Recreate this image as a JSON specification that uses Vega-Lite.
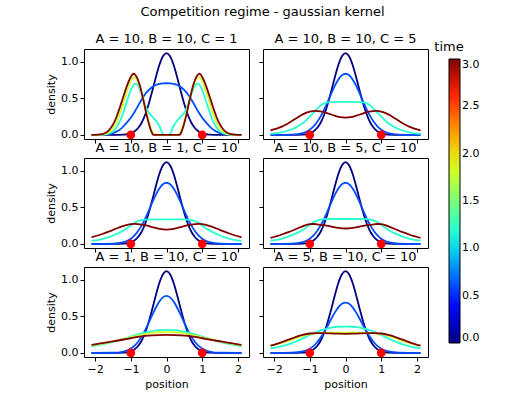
{
"$schema":"https://vega.github.io/schema/vega-lite/v6.json",
"padding":{"left":45,"top":5,"right":5,"bottom":5},
"title":{"text":"Competition regime - gaussian kernel","fontSize":13,"fontWeight":"normal","anchor":"middle","color":"black","offset":14},
"config":{
 "font":"DejaVu Sans",
 "view":{"stroke":"black","strokeWidth":1},
 "axis":{"grid":false,"domain":false,"tickColor":"black","labelColor":"black","titleColor":"black","labelFontSize":11,"titleFontSize":11,"titleFontWeight":"normal","tickSize":4,"labelPadding":2,"titlePadding":4},
 "title":{"fontSize":13,"fontWeight":"normal","offset":3,"color":"black"},
 "legend":{"orient":"none","legendX":350,"legendY":-8,"direction":"vertical","gradientLength":284,"gradientThickness":11,"gradientStrokeColor":"black","gradientStrokeWidth":1,"titleFontSize":13,"titleFontWeight":"normal","titleColor":"black","titleAlign":"center","titleAnchor":"start","labelFontSize":11,"labelColor":"black","labelOverlap":false}
},
"datasets":{
 "d":[{"x":-1,"y":0},{"x":1,"y":0}],
 "n":[{"time":0,"x":-2.1,"y":0},{"time":0,"x":-1.5,"y":0},{"time":0,"x":-1.2,"y":0.004},{"time":0,"x":-1,"y":0.022},{"time":0,"x":-0.9,"y":0.047},{"time":0,"x":-0.8,"y":0.091},{"time":0,"x":-0.7,"y":0.163},{"time":0,"x":-0.6,"y":0.272},{"time":0,"x":-0.5,"y":0.419},{"time":0,"x":-0.4,"y":0.597},{"time":0,"x":-0.3,"y":0.785},{"time":0,"x":-0.2,"y":0.955},{"time":0,"x":-0.1,"y":1.074},{"time":0,"x":0,"y":1.117},{"time":0,"x":0.1,"y":1.074},{"time":0,"x":0.2,"y":0.955},{"time":0,"x":0.3,"y":0.785},{"time":0,"x":0.4,"y":0.597},{"time":0,"x":0.5,"y":0.419},{"time":0,"x":0.6,"y":0.272},{"time":0,"x":0.7,"y":0.163},{"time":0,"x":0.8,"y":0.091},{"time":0,"x":0.9,"y":0.047},{"time":0,"x":1,"y":0.022},{"time":0,"x":1.2,"y":0.004},{"time":0,"x":1.5,"y":0},{"time":0,"x":2.1,"y":0}],
 "c":[
 {"p":1,"time":0.6,"x":-2.1,"y":0},{"p":1,"time":0.6,"x":-1.7,"y":0.006},{"p":1,"time":0.6,"x":-1.5,"y":0.025},{"p":1,"time":0.6,"x":-1.4,"y":0.045},{"p":1,"time":0.6,"x":-1.3,"y":0.075},{"p":1,"time":0.6,"x":-1.2,"y":0.12},{"p":1,"time":0.6,"x":-1.1,"y":0.175},{"p":1,"time":0.6,"x":-1,"y":0.235},{"p":1,"time":0.6,"x":-0.9,"y":0.31},{"p":1,"time":0.6,"x":-0.8,"y":0.395},{"p":1,"time":0.6,"x":-0.7,"y":0.48},{"p":1,"time":0.6,"x":-0.6,"y":0.555},{"p":1,"time":0.6,"x":-0.5,"y":0.61},{"p":1,"time":0.6,"x":-0.4,"y":0.655},{"p":1,"time":0.6,"x":-0.3,"y":0.682},{"p":1,"time":0.6,"x":-0.2,"y":0.698},{"p":1,"time":0.6,"x":-0.1,"y":0.704},{"p":1,"time":0.6,"x":0,"y":0.705},{"p":1,"time":0.6,"x":0.1,"y":0.704},{"p":1,"time":0.6,"x":0.2,"y":0.698},{"p":1,"time":0.6,"x":0.3,"y":0.682},{"p":1,"time":0.6,"x":0.4,"y":0.655},{"p":1,"time":0.6,"x":0.5,"y":0.61},{"p":1,"time":0.6,"x":0.6,"y":0.555},{"p":1,"time":0.6,"x":0.7,"y":0.48},{"p":1,"time":0.6,"x":0.8,"y":0.395},{"p":1,"time":0.6,"x":0.9,"y":0.31},{"p":1,"time":0.6,"x":1,"y":0.235},{"p":1,"time":0.6,"x":1.1,"y":0.175},{"p":1,"time":0.6,"x":1.2,"y":0.12},{"p":1,"time":0.6,"x":1.3,"y":0.075},{"p":1,"time":0.6,"x":1.4,"y":0.045},{"p":1,"time":0.6,"x":1.5,"y":0.025},{"p":1,"time":0.6,"x":1.7,"y":0.006},{"p":1,"time":0.6,"x":2.1,"y":0},
 {"p":1,"time":1.2,"x":-2.1,"y":0},{"p":1,"time":1.2,"x":-1.8,"y":0.003},{"p":1,"time":1.2,"x":-1.6,"y":0.02},{"p":1,"time":1.2,"x":-1.5,"y":0.045},{"p":1,"time":1.2,"x":-1.4,"y":0.1},{"p":1,"time":1.2,"x":-1.3,"y":0.19},{"p":1,"time":1.2,"x":-1.2,"y":0.32},{"p":1,"time":1.2,"x":-1.1,"y":0.47},{"p":1,"time":1.2,"x":-1,"y":0.61},{"p":1,"time":1.2,"x":-0.9,"y":0.695},{"p":1,"time":1.2,"x":-0.85,"y":0.7},{"p":1,"time":1.2,"x":-0.8,"y":0.675},{"p":1,"time":1.2,"x":-0.7,"y":0.56},{"p":1,"time":1.2,"x":-0.6,"y":0.41},{"p":1,"time":1.2,"x":-0.5,"y":0.305},{"p":1,"time":1.2,"x":-0.4,"y":0.25},{"p":1,"time":1.2,"x":-0.3,"y":0.195},{"p":1,"time":1.2,"x":-0.2,"y":0.125},{"p":1,"time":1.2,"x":-0.12,"y":0.03},{"p":1,"time":1.2,"x":-0.08,"y":0},{"p":1,"time":1.2,"x":0,"y":0},{"p":1,"time":1.2,"x":0.08,"y":0},{"p":1,"time":1.2,"x":0.12,"y":0.03},{"p":1,"time":1.2,"x":0.2,"y":0.125},{"p":1,"time":1.2,"x":0.3,"y":0.195},{"p":1,"time":1.2,"x":0.4,"y":0.25},{"p":1,"time":1.2,"x":0.5,"y":0.305},{"p":1,"time":1.2,"x":0.6,"y":0.41},{"p":1,"time":1.2,"x":0.7,"y":0.56},{"p":1,"time":1.2,"x":0.8,"y":0.675},{"p":1,"time":1.2,"x":0.85,"y":0.7},{"p":1,"time":1.2,"x":0.9,"y":0.695},{"p":1,"time":1.2,"x":1,"y":0.61},{"p":1,"time":1.2,"x":1.1,"y":0.47},{"p":1,"time":1.2,"x":1.2,"y":0.32},{"p":1,"time":1.2,"x":1.3,"y":0.19},{"p":1,"time":1.2,"x":1.4,"y":0.1},{"p":1,"time":1.2,"x":1.5,"y":0.045},{"p":1,"time":1.2,"x":1.6,"y":0.02},{"p":1,"time":1.2,"x":1.8,"y":0.003},{"p":1,"time":1.2,"x":2.1,"y":0},
 {"p":1,"time":1.8,"x":-2.1,"y":0},{"p":1,"time":1.8,"x":-1.8,"y":0.005},{"p":1,"time":1.8,"x":-1.7,"y":0.015},{"p":1,"time":1.8,"x":-1.6,"y":0.04},{"p":1,"time":1.8,"x":-1.5,"y":0.09},{"p":1,"time":1.8,"x":-1.4,"y":0.175},{"p":1,"time":1.8,"x":-1.3,"y":0.3},{"p":1,"time":1.8,"x":-1.2,"y":0.45},{"p":1,"time":1.8,"x":-1.1,"y":0.61},{"p":1,"time":1.8,"x":-1,"y":0.735},{"p":1,"time":1.8,"x":-0.92,"y":0.79},{"p":1,"time":1.8,"x":-0.85,"y":0.77},{"p":1,"time":1.8,"x":-0.75,"y":0.66},{"p":1,"time":1.8,"x":-0.65,"y":0.48},{"p":1,"time":1.8,"x":-0.55,"y":0.28},{"p":1,"time":1.8,"x":-0.45,"y":0.11},{"p":1,"time":1.8,"x":-0.38,"y":0.03},{"p":1,"time":1.8,"x":-0.32,"y":0},{"p":1,"time":1.8,"x":0,"y":0},{"p":1,"time":1.8,"x":0.32,"y":0},{"p":1,"time":1.8,"x":0.38,"y":0.03},{"p":1,"time":1.8,"x":0.45,"y":0.11},{"p":1,"time":1.8,"x":0.55,"y":0.28},{"p":1,"time":1.8,"x":0.65,"y":0.48},{"p":1,"time":1.8,"x":0.75,"y":0.66},{"p":1,"time":1.8,"x":0.85,"y":0.77},{"p":1,"time":1.8,"x":0.92,"y":0.79},{"p":1,"time":1.8,"x":1,"y":0.735},{"p":1,"time":1.8,"x":1.1,"y":0.61},{"p":1,"time":1.8,"x":1.2,"y":0.45},{"p":1,"time":1.8,"x":1.3,"y":0.3},{"p":1,"time":1.8,"x":1.4,"y":0.175},{"p":1,"time":1.8,"x":1.5,"y":0.09},{"p":1,"time":1.8,"x":1.6,"y":0.04},{"p":1,"time":1.8,"x":1.7,"y":0.015},{"p":1,"time":1.8,"x":1.8,"y":0.005},{"p":1,"time":1.8,"x":2.1,"y":0},
 {"p":1,"time":3,"x":-2.1,"y":0},{"p":1,"time":3,"x":-1.9,"y":0.003},{"p":1,"time":3,"x":-1.8,"y":0.01},{"p":1,"time":3,"x":-1.7,"y":0.03},{"p":1,"time":3,"x":-1.6,"y":0.07},{"p":1,"time":3,"x":-1.5,"y":0.14},{"p":1,"time":3,"x":-1.4,"y":0.245},{"p":1,"time":3,"x":-1.3,"y":0.385},{"p":1,"time":3,"x":-1.2,"y":0.535},{"p":1,"time":3,"x":-1.1,"y":0.68},{"p":1,"time":3,"x":-1,"y":0.79},{"p":1,"time":3,"x":-0.93,"y":0.835},{"p":1,"time":3,"x":-0.86,"y":0.81},{"p":1,"time":3,"x":-0.75,"y":0.68},{"p":1,"time":3,"x":-0.65,"y":0.48},{"p":1,"time":3,"x":-0.55,"y":0.26},{"p":1,"time":3,"x":-0.45,"y":0.08},{"p":1,"time":3,"x":-0.4,"y":0.02},{"p":1,"time":3,"x":-0.36,"y":0},{"p":1,"time":3,"x":0,"y":0},{"p":1,"time":3,"x":0.36,"y":0},{"p":1,"time":3,"x":0.4,"y":0.02},{"p":1,"time":3,"x":0.45,"y":0.08},{"p":1,"time":3,"x":0.55,"y":0.26},{"p":1,"time":3,"x":0.65,"y":0.48},{"p":1,"time":3,"x":0.75,"y":0.68},{"p":1,"time":3,"x":0.86,"y":0.81},{"p":1,"time":3,"x":0.93,"y":0.835},{"p":1,"time":3,"x":1,"y":0.79},{"p":1,"time":3,"x":1.1,"y":0.68},{"p":1,"time":3,"x":1.2,"y":0.535},{"p":1,"time":3,"x":1.3,"y":0.385},{"p":1,"time":3,"x":1.4,"y":0.245},{"p":1,"time":3,"x":1.5,"y":0.14},{"p":1,"time":3,"x":1.6,"y":0.07},{"p":1,"time":3,"x":1.7,"y":0.03},{"p":1,"time":3,"x":1.8,"y":0.01},{"p":1,"time":3,"x":1.9,"y":0.003},{"p":1,"time":3,"x":2.1,"y":0},

 {"p":2,"time":0.6,"x":-2.1,"y":0},{"p":2,"time":0.6,"x":-1.5,"y":0.003},{"p":2,"time":0.6,"x":-1.2,"y":0.024},{"p":2,"time":0.6,"x":-1,"y":0.071},{"p":2,"time":0.6,"x":-0.9,"y":0.113},{"p":2,"time":0.6,"x":-0.8,"y":0.172},{"p":2,"time":0.6,"x":-0.7,"y":0.249},{"p":2,"time":0.6,"x":-0.6,"y":0.343},{"p":2,"time":0.6,"x":-0.5,"y":0.45},{"p":2,"time":0.6,"x":-0.4,"y":0.562},{"p":2,"time":0.6,"x":-0.3,"y":0.669},{"p":2,"time":0.6,"x":-0.2,"y":0.756},{"p":2,"time":0.6,"x":-0.1,"y":0.815},{"p":2,"time":0.6,"x":0,"y":0.835},{"p":2,"time":0.6,"x":0.1,"y":0.815},{"p":2,"time":0.6,"x":0.2,"y":0.756},{"p":2,"time":0.6,"x":0.3,"y":0.669},{"p":2,"time":0.6,"x":0.4,"y":0.562},{"p":2,"time":0.6,"x":0.5,"y":0.45},{"p":2,"time":0.6,"x":0.6,"y":0.343},{"p":2,"time":0.6,"x":0.7,"y":0.249},{"p":2,"time":0.6,"x":0.8,"y":0.172},{"p":2,"time":0.6,"x":0.9,"y":0.113},{"p":2,"time":0.6,"x":1,"y":0.071},{"p":2,"time":0.6,"x":1.2,"y":0.024},{"p":2,"time":0.6,"x":1.5,"y":0.003},{"p":2,"time":0.6,"x":2.1,"y":0},
 {"p":2,"time":1.2,"x":-2.1,"y":0.015},{"p":2,"time":1.2,"x":-1.8,"y":0.035},{"p":2,"time":1.2,"x":-1.6,"y":0.06},{"p":2,"time":1.2,"x":-1.4,"y":0.1},{"p":2,"time":1.2,"x":-1.2,"y":0.16},{"p":2,"time":1.2,"x":-1,"y":0.25},{"p":2,"time":1.2,"x":-0.9,"y":0.3},{"p":2,"time":1.2,"x":-0.8,"y":0.35},{"p":2,"time":1.2,"x":-0.7,"y":0.4},{"p":2,"time":1.2,"x":-0.6,"y":0.43},{"p":2,"time":1.2,"x":-0.5,"y":0.445},{"p":2,"time":1.2,"x":-0.3,"y":0.45},{"p":2,"time":1.2,"x":0,"y":0.45},{"p":2,"time":1.2,"x":0.3,"y":0.45},{"p":2,"time":1.2,"x":0.5,"y":0.445},{"p":2,"time":1.2,"x":0.6,"y":0.43},{"p":2,"time":1.2,"x":0.7,"y":0.4},{"p":2,"time":1.2,"x":0.8,"y":0.35},{"p":2,"time":1.2,"x":0.9,"y":0.3},{"p":2,"time":1.2,"x":1,"y":0.25},{"p":2,"time":1.2,"x":1.2,"y":0.16},{"p":2,"time":1.2,"x":1.4,"y":0.1},{"p":2,"time":1.2,"x":1.6,"y":0.06},{"p":2,"time":1.2,"x":1.8,"y":0.035},{"p":2,"time":1.2,"x":2.1,"y":0.015},
 {"p":2,"time":3,"x":-2.1,"y":0.062},{"p":2,"time":3,"x":-1.8,"y":0.11},{"p":2,"time":3,"x":-1.6,"y":0.16},{"p":2,"time":3,"x":-1.4,"y":0.22},{"p":2,"time":3,"x":-1.2,"y":0.28},{"p":2,"time":3,"x":-1,"y":0.318},{"p":2,"time":3,"x":-0.85,"y":0.327},{"p":2,"time":3,"x":-0.7,"y":0.32},{"p":2,"time":3,"x":-0.5,"y":0.295},{"p":2,"time":3,"x":-0.3,"y":0.262},{"p":2,"time":3,"x":-0.15,"y":0.242},{"p":2,"time":3,"x":0,"y":0.236},{"p":2,"time":3,"x":0.15,"y":0.242},{"p":2,"time":3,"x":0.3,"y":0.262},{"p":2,"time":3,"x":0.5,"y":0.295},{"p":2,"time":3,"x":0.7,"y":0.32},{"p":2,"time":3,"x":0.85,"y":0.327},{"p":2,"time":3,"x":1,"y":0.318},{"p":2,"time":3,"x":1.2,"y":0.28},{"p":2,"time":3,"x":1.4,"y":0.22},{"p":2,"time":3,"x":1.6,"y":0.16},{"p":2,"time":3,"x":1.8,"y":0.11},{"p":2,"time":3,"x":2.1,"y":0.062},

 {"p":3,"time":0.6,"x":-2.1,"y":0},{"p":3,"time":0.6,"x":-1.5,"y":0.003},{"p":3,"time":0.6,"x":-1.2,"y":0.024},{"p":3,"time":0.6,"x":-1,"y":0.071},{"p":3,"time":0.6,"x":-0.9,"y":0.113},{"p":3,"time":0.6,"x":-0.8,"y":0.172},{"p":3,"time":0.6,"x":-0.7,"y":0.249},{"p":3,"time":0.6,"x":-0.6,"y":0.343},{"p":3,"time":0.6,"x":-0.5,"y":0.45},{"p":3,"time":0.6,"x":-0.4,"y":0.562},{"p":3,"time":0.6,"x":-0.3,"y":0.669},{"p":3,"time":0.6,"x":-0.2,"y":0.756},{"p":3,"time":0.6,"x":-0.1,"y":0.815},{"p":3,"time":0.6,"x":0,"y":0.835},{"p":3,"time":0.6,"x":0.1,"y":0.815},{"p":3,"time":0.6,"x":0.2,"y":0.756},{"p":3,"time":0.6,"x":0.3,"y":0.669},{"p":3,"time":0.6,"x":0.4,"y":0.562},{"p":3,"time":0.6,"x":0.5,"y":0.45},{"p":3,"time":0.6,"x":0.6,"y":0.343},{"p":3,"time":0.6,"x":0.7,"y":0.249},{"p":3,"time":0.6,"x":0.8,"y":0.172},{"p":3,"time":0.6,"x":0.9,"y":0.113},{"p":3,"time":0.6,"x":1,"y":0.071},{"p":3,"time":0.6,"x":1.2,"y":0.024},{"p":3,"time":0.6,"x":1.5,"y":0.003},{"p":3,"time":0.6,"x":2.1,"y":0},
 {"p":3,"time":1.2,"x":-2.1,"y":0.04},{"p":3,"time":1.2,"x":-1.8,"y":0.065},{"p":3,"time":1.2,"x":-1.6,"y":0.095},{"p":3,"time":1.2,"x":-1.4,"y":0.135},{"p":3,"time":1.2,"x":-1.2,"y":0.185},{"p":3,"time":1.2,"x":-1,"y":0.25},{"p":3,"time":1.2,"x":-0.9,"y":0.285},{"p":3,"time":1.2,"x":-0.8,"y":0.31},{"p":3,"time":1.2,"x":-0.7,"y":0.325},{"p":3,"time":1.2,"x":-0.6,"y":0.332},{"p":3,"time":1.2,"x":-0.4,"y":0.335},{"p":3,"time":1.2,"x":0,"y":0.335},{"p":3,"time":1.2,"x":0.4,"y":0.335},{"p":3,"time":1.2,"x":0.6,"y":0.332},{"p":3,"time":1.2,"x":0.7,"y":0.325},{"p":3,"time":1.2,"x":0.8,"y":0.31},{"p":3,"time":1.2,"x":0.9,"y":0.285},{"p":3,"time":1.2,"x":1,"y":0.25},{"p":3,"time":1.2,"x":1.2,"y":0.185},{"p":3,"time":1.2,"x":1.4,"y":0.135},{"p":3,"time":1.2,"x":1.6,"y":0.095},{"p":3,"time":1.2,"x":1.8,"y":0.065},{"p":3,"time":1.2,"x":2.1,"y":0.04},
 {"p":3,"time":3,"x":-2.1,"y":0.09},{"p":3,"time":3,"x":-1.8,"y":0.135},{"p":3,"time":3,"x":-1.6,"y":0.17},{"p":3,"time":3,"x":-1.4,"y":0.21},{"p":3,"time":3,"x":-1.2,"y":0.245},{"p":3,"time":3,"x":-1,"y":0.27},{"p":3,"time":3,"x":-0.9,"y":0.273},{"p":3,"time":3,"x":-0.8,"y":0.27},{"p":3,"time":3,"x":-0.6,"y":0.255},{"p":3,"time":3,"x":-0.4,"y":0.23},{"p":3,"time":3,"x":-0.2,"y":0.205},{"p":3,"time":3,"x":0,"y":0.195},{"p":3,"time":3,"x":0.2,"y":0.205},{"p":3,"time":3,"x":0.4,"y":0.23},{"p":3,"time":3,"x":0.6,"y":0.255},{"p":3,"time":3,"x":0.8,"y":0.27},{"p":3,"time":3,"x":0.9,"y":0.273},{"p":3,"time":3,"x":1,"y":0.27},{"p":3,"time":3,"x":1.2,"y":0.245},{"p":3,"time":3,"x":1.4,"y":0.21},{"p":3,"time":3,"x":1.6,"y":0.17},{"p":3,"time":3,"x":1.8,"y":0.135},{"p":3,"time":3,"x":2.1,"y":0.09},

 {"p":4,"time":0.6,"x":-2.1,"y":0},{"p":4,"time":0.6,"x":-1.5,"y":0.003},{"p":4,"time":0.6,"x":-1.2,"y":0.024},{"p":4,"time":0.6,"x":-1,"y":0.071},{"p":4,"time":0.6,"x":-0.9,"y":0.113},{"p":4,"time":0.6,"x":-0.8,"y":0.172},{"p":4,"time":0.6,"x":-0.7,"y":0.249},{"p":4,"time":0.6,"x":-0.6,"y":0.343},{"p":4,"time":0.6,"x":-0.5,"y":0.45},{"p":4,"time":0.6,"x":-0.4,"y":0.562},{"p":4,"time":0.6,"x":-0.3,"y":0.669},{"p":4,"time":0.6,"x":-0.2,"y":0.756},{"p":4,"time":0.6,"x":-0.1,"y":0.815},{"p":4,"time":0.6,"x":0,"y":0.835},{"p":4,"time":0.6,"x":0.1,"y":0.815},{"p":4,"time":0.6,"x":0.2,"y":0.756},{"p":4,"time":0.6,"x":0.3,"y":0.669},{"p":4,"time":0.6,"x":0.4,"y":0.562},{"p":4,"time":0.6,"x":0.5,"y":0.45},{"p":4,"time":0.6,"x":0.6,"y":0.343},{"p":4,"time":0.6,"x":0.7,"y":0.249},{"p":4,"time":0.6,"x":0.8,"y":0.172},{"p":4,"time":0.6,"x":0.9,"y":0.113},{"p":4,"time":0.6,"x":1,"y":0.071},{"p":4,"time":0.6,"x":1.2,"y":0.024},{"p":4,"time":0.6,"x":1.5,"y":0.003},{"p":4,"time":0.6,"x":2.1,"y":0},
 {"p":4,"time":1.2,"x":-2.1,"y":0.045},{"p":4,"time":1.2,"x":-1.8,"y":0.07},{"p":4,"time":1.2,"x":-1.6,"y":0.1},{"p":4,"time":1.2,"x":-1.4,"y":0.14},{"p":4,"time":1.2,"x":-1.2,"y":0.19},{"p":4,"time":1.2,"x":-1,"y":0.26},{"p":4,"time":1.2,"x":-0.9,"y":0.295},{"p":4,"time":1.2,"x":-0.8,"y":0.318},{"p":4,"time":1.2,"x":-0.7,"y":0.332},{"p":4,"time":1.2,"x":-0.6,"y":0.338},{"p":4,"time":1.2,"x":-0.4,"y":0.34},{"p":4,"time":1.2,"x":0,"y":0.34},{"p":4,"time":1.2,"x":0.4,"y":0.34},{"p":4,"time":1.2,"x":0.6,"y":0.338},{"p":4,"time":1.2,"x":0.7,"y":0.332},{"p":4,"time":1.2,"x":0.8,"y":0.318},{"p":4,"time":1.2,"x":0.9,"y":0.295},{"p":4,"time":1.2,"x":1,"y":0.26},{"p":4,"time":1.2,"x":1.2,"y":0.19},{"p":4,"time":1.2,"x":1.4,"y":0.14},{"p":4,"time":1.2,"x":1.6,"y":0.1},{"p":4,"time":1.2,"x":1.8,"y":0.07},{"p":4,"time":1.2,"x":2.1,"y":0.045},
 {"p":4,"time":3,"x":-2.1,"y":0.082},{"p":4,"time":3,"x":-1.8,"y":0.125},{"p":4,"time":3,"x":-1.6,"y":0.16},{"p":4,"time":3,"x":-1.4,"y":0.2},{"p":4,"time":3,"x":-1.2,"y":0.24},{"p":4,"time":3,"x":-1,"y":0.27},{"p":4,"time":3,"x":-0.9,"y":0.272},{"p":4,"time":3,"x":-0.8,"y":0.268},{"p":4,"time":3,"x":-0.6,"y":0.255},{"p":4,"time":3,"x":-0.4,"y":0.237},{"p":4,"time":3,"x":-0.2,"y":0.218},{"p":4,"time":3,"x":0,"y":0.21},{"p":4,"time":3,"x":0.2,"y":0.218},{"p":4,"time":3,"x":0.4,"y":0.237},{"p":4,"time":3,"x":0.6,"y":0.255},{"p":4,"time":3,"x":0.8,"y":0.268},{"p":4,"time":3,"x":0.9,"y":0.272},{"p":4,"time":3,"x":1,"y":0.27},{"p":4,"time":3,"x":1.2,"y":0.24},{"p":4,"time":3,"x":1.4,"y":0.2},{"p":4,"time":3,"x":1.6,"y":0.16},{"p":4,"time":3,"x":1.8,"y":0.125},{"p":4,"time":3,"x":2.1,"y":0.082},

 {"p":5,"time":0.6,"x":-2.1,"y":0},{"p":5,"time":0.6,"x":-1.5,"y":0.002},{"p":5,"time":0.6,"x":-1.2,"y":0.019},{"p":5,"time":0.6,"x":-1,"y":0.059},{"p":5,"time":0.6,"x":-0.9,"y":0.096},{"p":5,"time":0.6,"x":-0.8,"y":0.149},{"p":5,"time":0.6,"x":-0.7,"y":0.219},{"p":5,"time":0.6,"x":-0.6,"y":0.307},{"p":5,"time":0.6,"x":-0.5,"y":0.408},{"p":5,"time":0.6,"x":-0.4,"y":0.515},{"p":5,"time":0.6,"x":-0.3,"y":0.617},{"p":5,"time":0.6,"x":-0.2,"y":0.702},{"p":5,"time":0.6,"x":-0.1,"y":0.758},{"p":5,"time":0.6,"x":0,"y":0.778},{"p":5,"time":0.6,"x":0.1,"y":0.758},{"p":5,"time":0.6,"x":0.2,"y":0.702},{"p":5,"time":0.6,"x":0.3,"y":0.617},{"p":5,"time":0.6,"x":0.4,"y":0.515},{"p":5,"time":0.6,"x":0.5,"y":0.408},{"p":5,"time":0.6,"x":0.6,"y":0.307},{"p":5,"time":0.6,"x":0.7,"y":0.219},{"p":5,"time":0.6,"x":0.8,"y":0.149},{"p":5,"time":0.6,"x":0.9,"y":0.096},{"p":5,"time":0.6,"x":1,"y":0.059},{"p":5,"time":0.6,"x":1.2,"y":0.019},{"p":5,"time":0.6,"x":1.5,"y":0.002},{"p":5,"time":0.6,"x":2.1,"y":0},
 {"p":5,"time":1.2,"x":-2.1,"y":0.09},{"p":5,"time":1.2,"x":-1.8,"y":0.115},{"p":5,"time":1.2,"x":-1.6,"y":0.137},{"p":5,"time":1.2,"x":-1.4,"y":0.163},{"p":5,"time":1.2,"x":-1.2,"y":0.192},{"p":5,"time":1.2,"x":-1,"y":0.222},{"p":5,"time":1.2,"x":-0.8,"y":0.252},{"p":5,"time":1.2,"x":-0.6,"y":0.278},{"p":5,"time":1.2,"x":-0.4,"y":0.298},{"p":5,"time":1.2,"x":-0.2,"y":0.31},{"p":5,"time":1.2,"x":0,"y":0.314},{"p":5,"time":1.2,"x":0.2,"y":0.31},{"p":5,"time":1.2,"x":0.4,"y":0.298},{"p":5,"time":1.2,"x":0.6,"y":0.278},{"p":5,"time":1.2,"x":0.8,"y":0.252},{"p":5,"time":1.2,"x":1,"y":0.222},{"p":5,"time":1.2,"x":1.2,"y":0.192},{"p":5,"time":1.2,"x":1.4,"y":0.163},{"p":5,"time":1.2,"x":1.6,"y":0.137},{"p":5,"time":1.2,"x":1.8,"y":0.115},{"p":5,"time":1.2,"x":2.1,"y":0.09},
 {"p":5,"time":1.8,"x":-2.1,"y":0.102},{"p":5,"time":1.8,"x":-1.8,"y":0.128},{"p":5,"time":1.8,"x":-1.6,"y":0.148},{"p":5,"time":1.8,"x":-1.4,"y":0.168},{"p":5,"time":1.8,"x":-1.2,"y":0.19},{"p":5,"time":1.8,"x":-1,"y":0.213},{"p":5,"time":1.8,"x":-0.8,"y":0.236},{"p":5,"time":1.8,"x":-0.6,"y":0.256},{"p":5,"time":1.8,"x":-0.4,"y":0.272},{"p":5,"time":1.8,"x":-0.2,"y":0.282},{"p":5,"time":1.8,"x":0,"y":0.285},{"p":5,"time":1.8,"x":0.2,"y":0.282},{"p":5,"time":1.8,"x":0.4,"y":0.272},{"p":5,"time":1.8,"x":0.6,"y":0.256},{"p":5,"time":1.8,"x":0.8,"y":0.236},{"p":5,"time":1.8,"x":1,"y":0.213},{"p":5,"time":1.8,"x":1.2,"y":0.19},{"p":5,"time":1.8,"x":1.4,"y":0.168},{"p":5,"time":1.8,"x":1.6,"y":0.148},{"p":5,"time":1.8,"x":1.8,"y":0.128},{"p":5,"time":1.8,"x":2.1,"y":0.102},
 {"p":5,"time":3,"x":-2.1,"y":0.109},{"p":5,"time":3,"x":-1.8,"y":0.132},{"p":5,"time":3,"x":-1.6,"y":0.149},{"p":5,"time":3,"x":-1.4,"y":0.166},{"p":5,"time":3,"x":-1.2,"y":0.183},{"p":5,"time":3,"x":-1,"y":0.2},{"p":5,"time":3,"x":-0.8,"y":0.218},{"p":5,"time":3,"x":-0.6,"y":0.232},{"p":5,"time":3,"x":-0.4,"y":0.24},{"p":5,"time":3,"x":-0.2,"y":0.244},{"p":5,"time":3,"x":0,"y":0.245},{"p":5,"time":3,"x":0.2,"y":0.244},{"p":5,"time":3,"x":0.4,"y":0.24},{"p":5,"time":3,"x":0.6,"y":0.232},{"p":5,"time":3,"x":0.8,"y":0.218},{"p":5,"time":3,"x":1,"y":0.2},{"p":5,"time":3,"x":1.2,"y":0.183},{"p":5,"time":3,"x":1.4,"y":0.166},{"p":5,"time":3,"x":1.6,"y":0.149},{"p":5,"time":3,"x":1.8,"y":0.132},{"p":5,"time":3,"x":2.1,"y":0.109},

 {"p":6,"time":0.6,"x":-2.1,"y":0},{"p":6,"time":0.6,"x":-1.5,"y":0.003},{"p":6,"time":0.6,"x":-1.2,"y":0.02},{"p":6,"time":0.6,"x":-1,"y":0.058},{"p":6,"time":0.6,"x":-0.9,"y":0.093},{"p":6,"time":0.6,"x":-0.8,"y":0.142},{"p":6,"time":0.6,"x":-0.7,"y":0.205},{"p":6,"time":0.6,"x":-0.6,"y":0.282},{"p":6,"time":0.6,"x":-0.5,"y":0.37},{"p":6,"time":0.6,"x":-0.4,"y":0.463},{"p":6,"time":0.6,"x":-0.3,"y":0.55},{"p":6,"time":0.6,"x":-0.2,"y":0.622},{"p":6,"time":0.6,"x":-0.1,"y":0.67},{"p":6,"time":0.6,"x":0,"y":0.687},{"p":6,"time":0.6,"x":0.1,"y":0.67},{"p":6,"time":0.6,"x":0.2,"y":0.622},{"p":6,"time":0.6,"x":0.3,"y":0.55},{"p":6,"time":0.6,"x":0.4,"y":0.463},{"p":6,"time":0.6,"x":0.5,"y":0.37},{"p":6,"time":0.6,"x":0.6,"y":0.282},{"p":6,"time":0.6,"x":0.7,"y":0.205},{"p":6,"time":0.6,"x":0.8,"y":0.142},{"p":6,"time":0.6,"x":0.9,"y":0.093},{"p":6,"time":0.6,"x":1,"y":0.058},{"p":6,"time":0.6,"x":1.2,"y":0.02},{"p":6,"time":0.6,"x":1.5,"y":0.003},{"p":6,"time":0.6,"x":2.1,"y":0},
 {"p":6,"time":1.2,"x":-2.1,"y":0.062},{"p":6,"time":1.2,"x":-1.8,"y":0.088},{"p":6,"time":1.2,"x":-1.6,"y":0.115},{"p":6,"time":1.2,"x":-1.4,"y":0.153},{"p":6,"time":1.2,"x":-1.2,"y":0.198},{"p":6,"time":1.2,"x":-1,"y":0.245},{"p":6,"time":1.2,"x":-0.8,"y":0.288},{"p":6,"time":1.2,"x":-0.6,"y":0.322},{"p":6,"time":1.2,"x":-0.4,"y":0.345},{"p":6,"time":1.2,"x":-0.2,"y":0.357},{"p":6,"time":1.2,"x":0,"y":0.36},{"p":6,"time":1.2,"x":0.2,"y":0.357},{"p":6,"time":1.2,"x":0.4,"y":0.345},{"p":6,"time":1.2,"x":0.6,"y":0.322},{"p":6,"time":1.2,"x":0.8,"y":0.288},{"p":6,"time":1.2,"x":1,"y":0.245},{"p":6,"time":1.2,"x":1.2,"y":0.198},{"p":6,"time":1.2,"x":1.4,"y":0.153},{"p":6,"time":1.2,"x":1.6,"y":0.115},{"p":6,"time":1.2,"x":1.8,"y":0.088},{"p":6,"time":1.2,"x":2.1,"y":0.062},
 {"p":6,"time":1.8,"x":-2.1,"y":0.095},{"p":6,"time":1.8,"x":-1.8,"y":0.133},{"p":6,"time":1.8,"x":-1.6,"y":0.165},{"p":6,"time":1.8,"x":-1.4,"y":0.2},{"p":6,"time":1.8,"x":-1.2,"y":0.232},{"p":6,"time":1.8,"x":-1,"y":0.255},{"p":6,"time":1.8,"x":-0.8,"y":0.268},{"p":6,"time":1.8,"x":-0.6,"y":0.274},{"p":6,"time":1.8,"x":-0.4,"y":0.276},{"p":6,"time":1.8,"x":-0.2,"y":0.277},{"p":6,"time":1.8,"x":0,"y":0.277},{"p":6,"time":1.8,"x":0.2,"y":0.277},{"p":6,"time":1.8,"x":0.4,"y":0.276},{"p":6,"time":1.8,"x":0.6,"y":0.274},{"p":6,"time":1.8,"x":0.8,"y":0.268},{"p":6,"time":1.8,"x":1,"y":0.255},{"p":6,"time":1.8,"x":1.2,"y":0.232},{"p":6,"time":1.8,"x":1.4,"y":0.2},{"p":6,"time":1.8,"x":1.6,"y":0.165},{"p":6,"time":1.8,"x":1.8,"y":0.133},{"p":6,"time":1.8,"x":2.1,"y":0.095},
 {"p":6,"time":3,"x":-2.1,"y":0.098},{"p":6,"time":3,"x":-1.8,"y":0.145},{"p":6,"time":3,"x":-1.6,"y":0.18},{"p":6,"time":3,"x":-1.4,"y":0.215},{"p":6,"time":3,"x":-1.2,"y":0.245},{"p":6,"time":3,"x":-1,"y":0.265},{"p":6,"time":3,"x":-0.8,"y":0.271},{"p":6,"time":3,"x":-0.6,"y":0.27},{"p":6,"time":3,"x":-0.4,"y":0.266},{"p":6,"time":3,"x":-0.2,"y":0.262},{"p":6,"time":3,"x":0,"y":0.26},{"p":6,"time":3,"x":0.2,"y":0.262},{"p":6,"time":3,"x":0.4,"y":0.266},{"p":6,"time":3,"x":0.6,"y":0.27},{"p":6,"time":3,"x":0.8,"y":0.271},{"p":6,"time":3,"x":1,"y":0.265},{"p":6,"time":3,"x":1.2,"y":0.245},{"p":6,"time":3,"x":1.4,"y":0.215},{"p":6,"time":3,"x":1.6,"y":0.18},{"p":6,"time":3,"x":1.8,"y":0.145},{"p":6,"time":3,"x":2.1,"y":0.098}
 ]
},
"spacing":-3,
"resolve":{"scale":{"color":"shared"}},
"vconcat":[
 {"hconcat":[
  {"width":165,"height":90,"title":"A = 10, B = 10, C = 1",
   "encoding":{"x":{"field":"x","type":"quantitative","scale":{"domain":[-2.31,2.31],"nice":false,"zero":false},"axis":{"values":[-2,-1,0,1,2],"labels":false,"title":null}},
               "y":{"field":"y","type":"quantitative","scale":{"domain":[-0.056,1.173],"nice":false,"zero":false},"axis":{"values":[0,0.5,1],"format":".1f","title":"density"}}},
   "layer":[
    {"data":{"name":"n"},"mark":{"type":"line","strokeWidth":1.8,"interpolate":"monotone"},"encoding":{"color":{"field":"time","type":"quantitative","scale":{"domain":[0,3],"range":["#000080","#0000ff","#0080ff","#14ffe2","#7bff7b","#e2ff14","#ff9700","#ff2100","#800000"],"interpolate":"rgb"},"legend":{"values":[0,0.5,1,1.5,2,2.5,3],"format":".1f"}}}},
    {"data":{"name":"c"},"transform":[{"filter":"datum.p == 1"}],"mark":{"type":"line","strokeWidth":1.8,"interpolate":"monotone"},"encoding":{"color":{"field":"time","type":"quantitative","scale":{"domain":[0,3],"range":["#000080","#0000ff","#0080ff","#14ffe2","#7bff7b","#e2ff14","#ff9700","#ff2100","#800000"],"interpolate":"rgb"},"legend":{"values":[0,0.5,1,1.5,2,2.5,3],"format":".1f"}},"detail":{"field":"time","type":"nominal"}}},
    {"data":{"name":"d"},"mark":{"type":"circle","size":75,"color":"red","opacity":1}}
   ]},
  {"width":165,"height":90,"title":"A = 10, B = 10, C = 5",
   "encoding":{"x":{"field":"x","type":"quantitative","scale":{"domain":[-2.31,2.31],"nice":false,"zero":false},"axis":{"values":[-2,-1,0,1,2],"labels":false,"title":null}},
               "y":{"field":"y","type":"quantitative","scale":{"domain":[-0.056,1.173],"nice":false,"zero":false},"axis":{"values":[0,0.5,1],"labels":false,"title":null}}},
   "layer":[
    {"data":{"name":"n"},"mark":{"type":"line","strokeWidth":1.8,"interpolate":"monotone"},"encoding":{"color":{"field":"time","type":"quantitative","scale":{"domain":[0,3],"range":["#000080","#0000ff","#0080ff","#14ffe2","#7bff7b","#e2ff14","#ff9700","#ff2100","#800000"],"interpolate":"rgb"},"legend":{"values":[0,0.5,1,1.5,2,2.5,3],"format":".1f"}}}},
    {"data":{"name":"c"},"transform":[{"filter":"datum.p == 2"}],"mark":{"type":"line","strokeWidth":1.8,"interpolate":"monotone"},"encoding":{"color":{"field":"time","type":"quantitative","scale":{"domain":[0,3],"range":["#000080","#0000ff","#0080ff","#14ffe2","#7bff7b","#e2ff14","#ff9700","#ff2100","#800000"],"interpolate":"rgb"},"legend":{"values":[0,0.5,1,1.5,2,2.5,3],"format":".1f"}},"detail":{"field":"time","type":"nominal"}}},
    {"data":{"name":"d"},"mark":{"type":"circle","size":75,"color":"red","opacity":1}}
   ]}
 ],"spacing":14,"bounds":"flush"},
 {"hconcat":[
  {"width":165,"height":90,"title":"A = 10, B = 1, C = 10",
   "encoding":{"x":{"field":"x","type":"quantitative","scale":{"domain":[-2.31,2.31],"nice":false,"zero":false},"axis":{"values":[-2,-1,0,1,2],"labels":false,"title":null}},
               "y":{"field":"y","type":"quantitative","scale":{"domain":[-0.056,1.173],"nice":false,"zero":false},"axis":{"values":[0,0.5,1],"format":".1f","title":"density"}}},
   "layer":[
    {"data":{"name":"n"},"mark":{"type":"line","strokeWidth":1.8,"interpolate":"monotone"},"encoding":{"color":{"field":"time","type":"quantitative","scale":{"domain":[0,3],"range":["#000080","#0000ff","#0080ff","#14ffe2","#7bff7b","#e2ff14","#ff9700","#ff2100","#800000"],"interpolate":"rgb"},"legend":{"values":[0,0.5,1,1.5,2,2.5,3],"format":".1f"}}}},
    {"data":{"name":"c"},"transform":[{"filter":"datum.p == 3"}],"mark":{"type":"line","strokeWidth":1.8,"interpolate":"monotone"},"encoding":{"color":{"field":"time","type":"quantitative","scale":{"domain":[0,3],"range":["#000080","#0000ff","#0080ff","#14ffe2","#7bff7b","#e2ff14","#ff9700","#ff2100","#800000"],"interpolate":"rgb"},"legend":{"values":[0,0.5,1,1.5,2,2.5,3],"format":".1f"}},"detail":{"field":"time","type":"nominal"}}},
    {"data":{"name":"d"},"mark":{"type":"circle","size":75,"color":"red","opacity":1}}
   ]},
  {"width":165,"height":90,"title":"A = 10, B = 5, C = 10",
   "encoding":{"x":{"field":"x","type":"quantitative","scale":{"domain":[-2.31,2.31],"nice":false,"zero":false},"axis":{"values":[-2,-1,0,1,2],"labels":false,"title":null}},
               "y":{"field":"y","type":"quantitative","scale":{"domain":[-0.056,1.173],"nice":false,"zero":false},"axis":{"values":[0,0.5,1],"labels":false,"title":null}}},
   "layer":[
    {"data":{"name":"n"},"mark":{"type":"line","strokeWidth":1.8,"interpolate":"monotone"},"encoding":{"color":{"field":"time","type":"quantitative","scale":{"domain":[0,3],"range":["#000080","#0000ff","#0080ff","#14ffe2","#7bff7b","#e2ff14","#ff9700","#ff2100","#800000"],"interpolate":"rgb"},"legend":{"values":[0,0.5,1,1.5,2,2.5,3],"format":".1f"}}}},
    {"data":{"name":"c"},"transform":[{"filter":"datum.p == 4"}],"mark":{"type":"line","strokeWidth":1.8,"interpolate":"monotone"},"encoding":{"color":{"field":"time","type":"quantitative","scale":{"domain":[0,3],"range":["#000080","#0000ff","#0080ff","#14ffe2","#7bff7b","#e2ff14","#ff9700","#ff2100","#800000"],"interpolate":"rgb"},"legend":{"values":[0,0.5,1,1.5,2,2.5,3],"format":".1f"}},"detail":{"field":"time","type":"nominal"}}},
    {"data":{"name":"d"},"mark":{"type":"circle","size":75,"color":"red","opacity":1}}
   ]}
 ],"spacing":14,"bounds":"flush"},
 {"hconcat":[
  {"width":165,"height":90,"title":"A = 1, B = 10, C = 10",
   "encoding":{"x":{"field":"x","type":"quantitative","scale":{"domain":[-2.31,2.31],"nice":false,"zero":false},"axis":{"values":[-2,-1,0,1,2],"format":"d","title":"position"}},
               "y":{"field":"y","type":"quantitative","scale":{"domain":[-0.056,1.173],"nice":false,"zero":false},"axis":{"values":[0,0.5,1],"format":".1f","title":"density"}}},
   "layer":[
    {"data":{"name":"n"},"mark":{"type":"line","strokeWidth":1.8,"interpolate":"monotone"},"encoding":{"color":{"field":"time","type":"quantitative","scale":{"domain":[0,3],"range":["#000080","#0000ff","#0080ff","#14ffe2","#7bff7b","#e2ff14","#ff9700","#ff2100","#800000"],"interpolate":"rgb"},"legend":{"values":[0,0.5,1,1.5,2,2.5,3],"format":".1f"}}}},
    {"data":{"name":"c"},"transform":[{"filter":"datum.p == 5"}],"mark":{"type":"line","strokeWidth":1.8,"interpolate":"monotone"},"encoding":{"color":{"field":"time","type":"quantitative","scale":{"domain":[0,3],"range":["#000080","#0000ff","#0080ff","#14ffe2","#7bff7b","#e2ff14","#ff9700","#ff2100","#800000"],"interpolate":"rgb"},"legend":{"values":[0,0.5,1,1.5,2,2.5,3],"format":".1f"}},"detail":{"field":"time","type":"nominal"}}},
    {"data":{"name":"d"},"mark":{"type":"circle","size":75,"color":"red","opacity":1}}
   ]},
  {"width":165,"height":90,"title":"A = 5, B = 10, C = 10",
   "encoding":{"x":{"field":"x","type":"quantitative","scale":{"domain":[-2.31,2.31],"nice":false,"zero":false},"axis":{"values":[-2,-1,0,1,2],"format":"d","title":"position"}},
               "y":{"field":"y","type":"quantitative","scale":{"domain":[-0.056,1.173],"nice":false,"zero":false},"axis":{"values":[0,0.5,1],"labels":false,"title":null}}},
   "layer":[
    {"data":{"name":"n"},"mark":{"type":"line","strokeWidth":1.8,"interpolate":"monotone"},"encoding":{"color":{"field":"time","type":"quantitative","scale":{"domain":[0,3],"range":["#000080","#0000ff","#0080ff","#14ffe2","#7bff7b","#e2ff14","#ff9700","#ff2100","#800000"],"interpolate":"rgb"},"legend":{"values":[0,0.5,1,1.5,2,2.5,3],"format":".1f"}}}},
    {"data":{"name":"c"},"transform":[{"filter":"datum.p == 6"}],"mark":{"type":"line","strokeWidth":1.8,"interpolate":"monotone"},"encoding":{"color":{"field":"time","type":"quantitative","scale":{"domain":[0,3],"range":["#000080","#0000ff","#0080ff","#14ffe2","#7bff7b","#e2ff14","#ff9700","#ff2100","#800000"],"interpolate":"rgb"},"legend":{"values":[0,0.5,1,1.5,2,2.5,3],"format":".1f"}},"detail":{"field":"time","type":"nominal"}}},
    {"data":{"name":"d"},"mark":{"type":"circle","size":75,"color":"red","opacity":1}}
   ]}
 ],"spacing":14,"bounds":"flush"}
]
}
